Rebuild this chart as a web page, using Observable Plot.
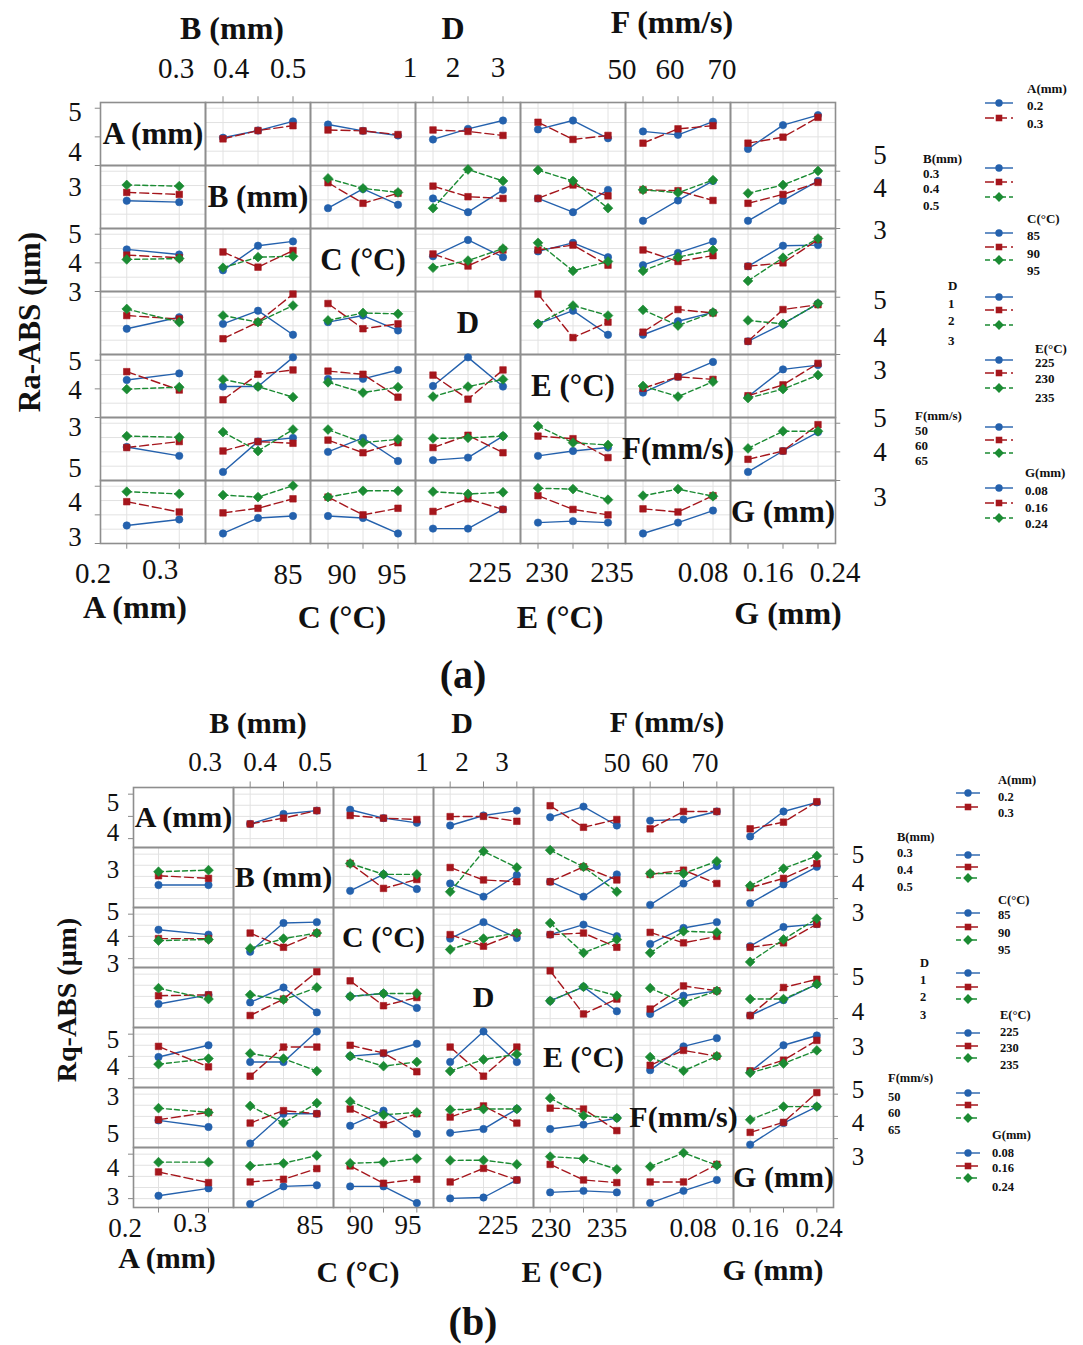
<!DOCTYPE html>
<html><head><meta charset="utf-8">
<script src="https://cdn.jsdelivr.net/npm/d3@7"></script>
<script src="https://cdn.jsdelivr.net/npm/@observablehq/plot@0.6"></script>
<style>
body{margin:0;background:#fff;}
#fig{position:relative;width:1083px;height:1345px;font-family:"Liberation Serif","Times New Roman",serif;color:#111;overflow:hidden;background:#fff}
.lbl{position:absolute;transform:translate(-50%,-50%);white-space:nowrap;line-height:0.75}
.lft{position:absolute;transform:translate(0,-50%);white-space:nowrap;line-height:1;font-weight:bold}
.b{font-weight:bold}
.plot{position:absolute;left:0}
</style></head><body><div id="fig"></div>
<script>
// ---------------- data ----------------
const factorNames = ["A (mm)","B (mm)","C (°C)","D","E (°C)","F(mm/s)","G (mm)"];
const legendTitles = ["A(mm)","B(mm)","C(°C)","D","E(°C)","F(mm/s)","G(mm)"];
const levelsA = ["0.2","0.3"];
const levelsB = ["0.3","0.4","0.5"];
const levelsC = ["85","90","95"];
const levelsD = ["1","2","3"];
const levelsE = ["225","230","235"];
const levelsF = ["50","60","65"];
const levelsG = ["0.08","0.16","0.24"];
const topTitles = ["B (mm)","D","F (mm/s)"];
const bottomTitles = ["A (mm)","C (°C)","E (°C)","G (mm)"];
const topTickLabels = ["0.3","0.4","0.5","1","2","3","50","60","70"];
const bottomTickLabels = ["0.2","0.3","85","90","95","225","230","235","0.08","0.16","0.24"];
const yLabelsLeft = ["5","4","3","5","4","3","5","4","3","5","4","3"];
const yLabelsRight = ["5","4","3","5","4","3","5","4","3"];

// Panel (a) Ra-ABS : row = trace factor, cell = [series per row level][value per column level]
const raA = [null,
 [[3.97,4.22,4.54],[3.93,4.22,4.39]],
 [[4.43,4.21,4.05],[4.24,4.21,4.08]],
 [[3.91,4.28,4.57],[4.24,4.19,4.05]],
 [[4.26,4.57,3.95],[4.51,3.91,4.05]],
 [[4.19,4.07,4.53],[3.78,4.28,4.39]],
 [[3.58,4.41,4.76],[3.78,3.99,4.68]]];
const raB = [[[3.97,3.92],[4.26,4.19],[4.52,4.48]], null,
 [[3.71,4.38,3.83],[4.60,3.88,4.23],[4.75,4.40,4.26]],
 [[4.05,3.57,4.35],[4.48,4.11,4.05],[3.71,5.06,4.66]],
 [[4.05,3.57,4.35],[4.05,4.52,4.14],[5.04,4.66,3.71]],
 [[3.27,3.98,4.66],[4.35,4.32,3.98],[4.35,4.25,4.69]],
 [[3.27,3.97,4.66],[3.88,4.19,4.61],[4.23,4.52,5.01]]];
const raC = [[[4.47,4.29],[4.27,4.18],[4.12,4.15]],
 [[3.74,4.60,4.75],[4.38,3.85,4.43],[3.83,4.20,4.23]], null,
 [[4.23,4.80,4.20],[4.31,3.89,4.45],[3.83,4.08,4.50]],
 [[4.40,4.70,4.20],[4.45,4.62,3.92],[4.70,3.72,4.05]],
 [[3.92,4.35,4.75],[4.45,4.05,4.25],[3.72,4.20,4.45]],
 [[3.88,4.60,4.62],[3.88,4.00,4.81],[3.37,4.18,4.85]]];
const raD = [[[3.90,4.30],[4.36,4.24],[4.59,4.13]],
 [[4.07,4.53,3.69],[3.55,4.13,5.11],[4.36,4.13,4.71]],
 [[4.13,4.36,3.84],[4.78,3.90,4.07],[4.19,4.45,4.42]], null,
 [[4.07,4.53,3.69],[5.11,3.59,4.13],[4.07,4.71,4.36]],
 [[3.69,4.16,4.47],[3.78,4.57,4.45],[4.56,4.01,4.47]],
 [[3.46,4.07,4.78],[3.46,4.57,4.74],[4.19,4.07,4.78]]];
const raE = [[[4.31,4.54],[4.60,3.96],[3.99,4.06]],
 [[4.08,4.08,5.10],[3.62,4.51,4.66],[4.33,4.08,3.71]],
 [[4.35,4.35,4.66],[4.62,4.51,3.71],[4.23,3.87,4.06]],
 [[4.10,5.10,4.08],[4.48,3.64,4.66],[3.73,4.08,4.33]], null,
 [[3.87,4.42,4.94],[4.02,4.42,4.33],[4.10,3.73,4.25]],
 [[3.73,4.68,4.83],[3.76,4.14,4.89],[3.68,3.99,4.48]]];
const raF = [[[4.17,3.86],[4.15,4.36],[4.55,4.51]],
 [[3.30,4.36,4.49],[4.03,4.36,4.30],[4.69,4.03,4.78]],
 [[4.00,4.49,3.68],[4.41,3.97,4.32],[4.78,4.32,4.44]],
 [[3.71,3.80,4.55],[4.15,4.58,3.97],[4.47,4.49,4.55]],
 [[3.86,4.03,4.15],[4.55,4.46,3.80],[4.90,4.32,4.24]], null,
 [[3.30,4.03,4.69],[3.74,4.03,4.95],[4.12,4.72,4.72]]];
const raG = [[[3.63,3.84],[4.46,4.10],[4.81,4.73]],
 [[3.35,3.89,3.96],[4.07,4.23,4.56],[4.69,4.62,5.02]],
 [[3.96,3.89,3.35],[4.62,4.00,4.23],[4.62,4.84,4.84]],
 [[3.52,3.52,4.19],[4.12,4.56,4.19],[4.81,4.73,4.79]],
 [[3.73,3.78,3.73],[4.67,4.19,4.00],[4.93,4.90,4.53]],
 [[3.35,3.73,4.15],[4.21,4.10,4.67],[4.67,4.90,4.65]], null];

// Panel (b) Rq-ABS
const rqA = [null,
 [[3.66,4.11,4.26],[3.66,3.92,4.26]],
 [[4.30,3.92,3.71],[4.04,3.92,3.86]],
 [[3.59,4.04,4.26],[3.99,4.00,3.78]],
 [[3.96,4.44,3.59],[4.48,3.51,3.86]],
 [[3.81,3.86,4.22],[3.44,4.22,4.22]],
 [[3.10,4.22,4.63],[3.44,3.74,4.66]]];
const rqB = [[[3.61,3.61],[4.03,3.91],[4.21,4.28]], null,
 [[3.35,4.09,3.43],[4.58,3.46,3.86],[4.58,4.09,4.09]],
 [[3.68,3.09,4.06],[4.40,3.84,3.76],[3.31,5.13,4.40]],
 [[3.76,3.09,4.09],[3.76,4.43,3.84],[5.18,4.43,3.31]],
 [[2.72,3.68,4.47],[4.09,4.28,3.68],[4.13,4.13,4.68]],
 [[2.79,3.64,4.43],[3.49,3.91,4.58],[3.58,4.35,4.92]]];
const rqC = [[[4.30,4.08],[3.90,3.90],[3.81,3.86]],
 [[3.31,4.60,4.64],[4.15,3.51,4.15],[3.46,3.90,4.15]], null,
 [[3.90,4.64,3.93],[4.08,3.56,4.15],[3.41,3.90,4.15]],
 [[4.08,4.53,4.01],[4.08,4.15,3.51],[4.60,3.26,3.86]],
 [[3.66,4.38,4.64],[4.18,3.71,4.00],[3.26,4.23,4.18]],
 [[3.56,4.42,4.55],[3.51,3.71,4.55],[2.85,3.86,4.80]]];
const rqD = [[[3.66,4.07],[4.03,4.07],[4.37,3.88]],
 [[3.73,4.40,3.28],[3.14,3.88,5.11],[4.07,3.85,4.40]],
 [[4.00,4.13,3.48],[4.70,3.58,3.95],[4.00,4.13,4.13]], null,
 [[3.80,4.43,3.33],[5.15,3.21,3.88],[3.80,4.43,4.03]],
 [[3.21,4.03,4.25],[3.43,4.47,4.25],[4.37,3.73,4.25]],
 [[3.14,3.83,4.55],[3.14,4.40,4.77],[3.88,3.88,4.55]]];
const rqE = [[[3.97,4.50],[4.45,3.53],[3.65,3.90]],
 [[3.75,3.75,5.12],[3.11,4.42,4.42],[4.13,3.90,3.34]],
 [[4.01,4.13,4.57],[4.50,4.15,3.31],[4.01,3.56,3.75]],
 [[3.75,5.12,3.75],[4.42,3.11,4.42],[3.34,3.86,4.10]], null,
 [[3.38,4.45,4.82],[3.60,4.27,4.01],[3.97,3.35,4.01]],
 [[3.31,4.50,4.94],[3.35,3.83,4.72],[3.26,3.68,4.27]]];
const rqF = [[[3.82,3.52],[3.85,4.18],[4.37,4.18]],
 [[2.78,4.12,4.12],[3.70,4.26,4.12],[4.47,3.70,4.60]],
 [[3.58,4.26,3.22],[4.33,3.63,4.12],[4.67,4.07,4.18]],
 [[3.26,3.43,4.33],[3.97,4.47,3.70],[4.30,4.33,4.33]],
 [[3.43,3.63,3.93],[4.37,4.33,3.36],[4.82,4.03,3.93]], null,
 [[2.73,3.70,4.44],[3.28,3.73,5.07],[3.85,4.44,4.44]]];
const rqG = [[[3.13,3.46],[4.20,3.72],[4.64,4.64]],
 [[2.76,3.55,3.60],[3.75,3.87,4.35],[4.47,4.59,4.94]],
 [[3.55,3.55,2.80],[4.47,3.69,3.87],[4.59,4.64,4.80]],
 [[3.01,3.05,3.84],[3.75,4.36,3.84],[4.72,4.73,4.54]],
 [[3.28,3.35,3.28],[4.54,3.84,3.72],[4.89,4.80,4.32]],
 [[2.80,3.35,3.84],[3.75,3.75,4.54],[4.44,5.06,4.50]], null];

// ---------------- build ----------------
const levelLists = [levelsA,levelsB,levelsC,levelsD,levelsE,levelsF,levelsG];
const nLev = levelLists.map(l => l.length);
const pos = (m, j) => (m + 0.5) / nLev[j];

function flatten(rows) {
  const out = [];
  rows.forEach((row, i) => row.forEach((cell, j) => {
    if (!cell) return;
    cell.forEach((ser, k) => ser.forEach((v, m) => out.push({fy: i, fx: j, s: k, x: pos(m, j), y: v, key: i + "-" + j + "-" + k})));
  }));
  return out;
}

const blue = "#2461ad", red = "#a5161c", green = "#1b8b33";
const styles = [
  {color: blue, dash: null, symbol: "circle", r: 3.7, rotate: 0},
  {color: red, dash: "9,4", symbol: "square", r: 3.7, rotate: 0},
  {color: green, dash: "5,3", symbol: "square", r: 3.9, rotate: 45}
];
const FONT = '"Liberation Serif","Times New Roman",serif';

function panel(rows, o) {
  const data = flatten(rows);
  const cells = [];
  for (let i = 0; i < 7; i++) for (let j = 0; j < 7; j++) if (i !== j) cells.push({fx: j, fy: i});
  const gx = cells.flatMap(c => d3.range(nLev[c.fx]).map(m => ({...c, x: pos(m, c.fx)})));
  const gy = cells.flatMap(c => o.grid.map(v => ({...c, y: v})));
  const diag = factorNames.map((t, i) => ({fx: i, fy: i, t}));
  const topT = [1,3,5].flatMap(j => d3.range(nLev[j]).map(m => ({fx: j, fy: 0, x: pos(m, j)})));
  const botT = [0,2,4,6].flatMap(j => d3.range(nLev[j]).map(m => ({fx: j, fy: 6, x: pos(m, j)})));
  const leftT = [0,2,4,6].flatMap(i => [3,4,5].map(v => ({fx: 0, fy: i, y: v})));
  const rightT = [1,3,5].flatMap(i => [3,4,5].map(v => ({fx: 6, fy: i, y: v})));
  const [y0, y1] = o.y;
  const marks = [
    Plot.ruleX(gx, {fx: "fx", fy: "fy", x: "x", stroke: "#e2e2e2", strokeWidth: 1}),
    Plot.ruleY(gy, {fx: "fx", fy: "fy", y: "y", stroke: "#e2e2e2", strokeWidth: 1}),
    Plot.ruleX(topT, {fx: "fx", fy: "fy", x: "x", y1: y1, y2: y1 + o.dy, stroke: "#888"}),
    Plot.ruleX(botT, {fx: "fx", fy: "fy", x: "x", y1: y0, y2: y0 - o.dy, stroke: "#888"}),
    Plot.ruleY(leftT, {fx: "fx", fy: "fy", y: "y", x1: 0, x2: -0.05, stroke: "#888"}),
    Plot.ruleY(rightT, {fx: "fx", fy: "fy", y: "y", x1: 1, x2: 1.05, stroke: "#888"}),
    Plot.frame({stroke: "#8e8e8e", strokeWidth: 1.6}),
    Plot.text(diag, {fx: "fx", fy: "fy", text: "t", frameAnchor: "middle", fontSize: o.diagSize, fontWeight: "bold", fontFamily: FONT, fill: "#111"})
  ];
  styles.forEach((st, k) => {
    const d = data.filter(e => e.s === k);
    marks.push(Plot.line(d, {fx: "fx", fy: "fy", x: "x", y: "y", z: "key", stroke: st.color, strokeWidth: 1.4, strokeDasharray: st.dash}));
  });
  styles.forEach((st, k) => {
    const d = data.filter(e => e.s === k);
    marks.push(Plot.dot(d, {fx: "fx", fy: "fy", x: "x", y: "y", symbol: st.symbol, r: st.r, rotate: st.rotate, fill: st.color, stroke: st.color, strokeWidth: 0.6}));
  });
  const svg = Plot.plot({
    width: 1083, height: o.height,
    marginLeft: o.mL, marginRight: o.mR, marginTop: o.mT, marginBottom: o.mB,
    fx: {domain: d3.range(7), padding: 0, axis: null},
    fy: {domain: d3.range(7), padding: 0, axis: null},
    x: {domain: [0, 1], axis: null},
    y: {domain: o.y, axis: null},
    style: {background: "transparent", overflow: "visible"},
    marks
  });
  svg.classList.add("plot");
  svg.style.top = o.top + "px";
  return svg;
}

const fig = document.getElementById("fig");
fig.appendChild(panel([raA,raB,raC,raD,raE,raF,raG], {top: 0, height: 560, mL: 97, mR: 245, mT: 100, mB: 15, y: [3.0, 5.2], dy: 0.2, grid: [3.5,4,4.5,5], diagSize: 31}));
fig.appendChild(panel([rqA,rqB,rqC,rqD,rqE,rqF,rqG], {top: 700, height: 520, mL: 131, mR: 249, mT: 85, mB: 11.5, y: [2.6, 5.3], dy: 0.25, grid: [3,3.5,4,4.5,5], diagSize: 30}));

// ---------------- text ----------------
function label(text, x, y, size, bold, rot) {
  const d = document.createElement("div");
  d.className = "lbl" + (bold ? " b" : "");
  d.style.left = x + "px"; d.style.top = y + "px"; d.style.fontSize = size + "px";
  if (rot) d.style.transform = "translate(-50%,-50%) rotate(-90deg)";
  d.textContent = text;
  fig.appendChild(d);
}
function leftLabel(text, x, y, size) {
  const d = document.createElement("div");
  d.className = "lft";
  d.style.left = x + "px"; d.style.top = y + "px"; d.style.fontSize = size + "px";
  d.textContent = text;
  fig.appendChild(d);
}

const layouts = [
  { // (a)
    topTitlePos: [[232,28],[453,28],[672,22]], titleSize: 32,
    topTickPos: [[176,69],[231,69],[288,69],[410,68],[453,68],[498,68],[622,70],[670,70],[722,70]], tickSize: 29,
    botTickPos: [[93,574],[160,570],[288,575],[342,575],[392,575],[490,573],[547,573],[612,573],[703,573],[768,573],[835,573]],
    botTitlePos: [[135,607],[342,617],[560,617],[788,613]],
    ySize: 27,
    yLeftX: 75, yLeftY: [112,152,187,234,263,292,361,390,427,468,502,537],
    yRightX: 880, yRightY: [155,188,230,300,337,370,418,452,497],
    yTitle: ["Ra-ABS (μm)", 30, 322, 31],
    tag: ["(a)", 463, 675, 40],
    legSize: 13, symX: 999, symW: 28,
    leg: [
      {t:[1027,88], lx:1027, ly:[105,123], sy:[103,118]},
      {t:[923,158], lx:923, ly:[173,188,205], sy:[168,182,197]},
      {t:[1027,218], lx:1027, ly:[235,253,270], sy:[233,247,260]},
      {t:[948,285], lx:948, ly:[303,320,340], sy:[297,310,325]},
      {t:[1035,348], lx:1035, ly:[362,378,397], sy:[360,373,388]},
      {t:[915,415], lx:915, ly:[430,445,460], sy:[427,440,453]},
      {t:[1025,472], lx:1025, ly:[490,507,523], sy:[488,503,518]}
    ]
  },
  { // (b)
    topTitlePos: [[258,723],[462,723],[667,722]], titleSize: 30,
    topTickPos: [[205,762],[260,762],[315,762],[422,762],[462,762],[502,762],[617,763],[655,763],[705,763]], tickSize: 27,
    botTickPos: [[125,1228],[190,1223],[310,1225],[360,1225],[408,1225],[498,1225],[551,1228],[607,1228],[693,1228],[755,1228],[819,1228]],
    botTitlePos: [[167,1258],[358,1272],[562,1272],[773,1270]],
    ySize: 25,
    yLeftX: 113, yLeftY: [803,833,870,912,938,964,1040,1067,1097,1134,1168,1197],
    yRightX: 858, yRightY: [855,883,913,977,1012,1047,1090,1123,1157],
    yTitle: ["Rq-ABS (μm)", 66, 1000, 28],
    tag: ["(b)", 473, 1322, 40],
    legSize: 12.5, symX: 968, symW: 24,
    leg: [
      {t:[998,780], lx:998, ly:[797,813], sy:[793,807]},
      {t:[897,837], lx:897, ly:[853,870,887], sy:[855,867,878]},
      {t:[998,900], lx:998, ly:[915,933,950], sy:[913,927,940]},
      {t:[920,963], lx:920, ly:[980,997,1015], sy:[973,987,999]},
      {t:[1000,1015], lx:1000, ly:[1032,1048,1065], sy:[1033,1046,1058]},
      {t:[888,1078], lx:888, ly:[1097,1113,1130], sy:[1093,1105,1118]},
      {t:[992,1135], lx:992, ly:[1153,1168,1187], sy:[1153,1166,1178]}
    ]
  }
];

const overlay = d3.select(fig).append("svg")
  .attr("width", 1083).attr("height", 1345)
  .style("position", "absolute").style("left", 0).style("top", 0);

layouts.forEach(L => {
  topTitles.forEach((t, i) => label(t, L.topTitlePos[i][0], L.topTitlePos[i][1], L.titleSize, true));
  topTickLabels.forEach((t, i) => label(t, L.topTickPos[i][0], L.topTickPos[i][1], L.tickSize, false));
  bottomTickLabels.forEach((t, i) => label(t, L.botTickPos[i][0], L.botTickPos[i][1], L.tickSize, false));
  bottomTitles.forEach((t, i) => label(t, L.botTitlePos[i][0], L.botTitlePos[i][1], L.titleSize, true));
  yLabelsLeft.forEach((t, i) => label(t, L.yLeftX, L.yLeftY[i], L.ySize, false));
  yLabelsRight.forEach((t, i) => label(t, L.yRightX, L.yRightY[i], L.ySize, false));
  label(L.yTitle[0], L.yTitle[1], L.yTitle[2], L.yTitle[3], true, true);
  label(L.tag[0], L.tag[1], L.tag[2], L.tag[3], true);
  L.leg.forEach((g, f) => {
    leftLabel(legendTitles[f], g.t[0], g.t[1], L.legSize);
    levelLists[f].forEach((lv, k) => leftLabel(lv, g.lx, g.ly[k], L.legSize));
    g.sy.forEach((sy, k) => {
      const st = styles[k];
      overlay.append("line").attr("x1", L.symX - L.symW/2).attr("x2", L.symX + L.symW/2)
        .attr("y1", sy).attr("y2", sy).attr("stroke", st.color).attr("stroke-width", 1.4)
        .attr("stroke-dasharray", k === 0 ? null : (k === 1 ? "9,4" : "5,3"));
      const sym = k === 0 ? d3.symbolCircle : d3.symbolSquare;
      overlay.append("path").attr("d", d3.symbol(sym, Math.PI * st.r * st.r)())
        .attr("transform", `translate(${L.symX},${sy}) rotate(${st.rotate})`)
        .attr("fill", st.color);
    });
  });
});
</script></body></html>
